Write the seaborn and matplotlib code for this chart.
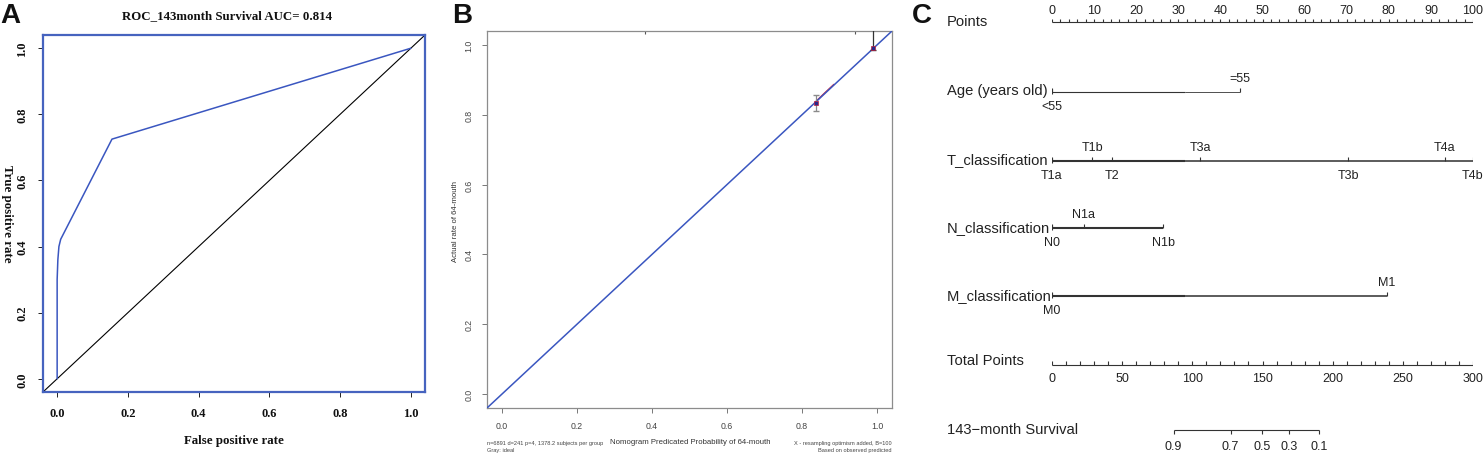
import numpy as np
import pandas as pd
import matplotlib
matplotlib.use("Agg")
import matplotlib.pyplot as plt
import seaborn as sns

# ---- data ----
# A: ROC curve
roc_fpr = [0.0, 0.0, 0.002, 0.005, 0.010, 0.155, 1.0]
roc_tpr = [0.0, 0.30, 0.36, 0.40, 0.422, 0.725, 1.0]
roc_title = "ROC_143month Survival AUC= 0.814"

# B: calibration
cal_pred = [0.838, 0.990]
cal_obs = [0.835, 0.990]
cal_lo = [0.812, 0.985]
cal_hi = [0.858, 1.080]
app_pred = [0.838, 0.860, 0.885]
app_obs = [0.839, 0.862, 0.887]
rug_pred = [0.382, 0.940]

# C: nomogram (points scale 0-100)
age_lab = ["<55", "=55"]
age_pts = [0.0, 44.6]
t_lab = ["T1a", "T1b", "T2", "T3a", "T3b", "T4a", "T4b"]
t_pts = [0.0, 9.6, 14.2, 35.2, 70.4, 93.3, 100.0]
n_lab = ["N0", "N1a", "N1b"]
n_pts = [0.0, 7.6, 26.4]
m_lab = ["M0", "M1"]
m_pts = [0.0, 79.5]
total_max = 300
surv_lab = ["0.9", "0.7", "0.5", "0.3", "0.1"]
surv_total = [86.7, 127.3, 149.9, 168.7, 190.5]

W, H = 1483, 456
sns.set_theme(style="white")
plt.rcParams["font.family"] = ["Liberation Sans", "DejaVu Sans"]

fig = plt.figure(figsize=(W / 100, H / 100), dpi=100)


def box(l, t, r, b):
    return [l / W, 1 - b / H, (r - l) / W, (b - t) / H]


def ftxt(x, y, s, **kw):
    fig.text(x / W, 1 - y / H, s, **kw)


serif = dict(family="Liberation Serif", weight="bold", color="#111111")

# ---------------- A ----------------
axA = fig.add_axes(box(43, 36, 425, 393))
roc_df = pd.DataFrame({"fpr": roc_fpr, "tpr": roc_tpr})
axA.axline((0, 0), (1, 1), color="black", lw=0.8)
sns.lineplot(data=roc_df, x="fpr", y="tpr", sort=False, estimator=None,
             color="#3a56c0", lw=1.1, ax=axA)
axA.set_xlim(-0.04, 1.04)
axA.set_ylim(-0.04, 1.04)
ticks = np.arange(0, 1.01, 0.2)
axA.set_xticks(ticks)
axA.set_yticks(ticks)
axA.set_xticklabels([f"{t:.1f}" for t in ticks], fontdict=serif, fontsize=9)
axA.set_yticklabels([f"{t:.1f}" for t in ticks], fontdict=serif, fontsize=9,
                    rotation=90, va="center")
axA.tick_params(direction="out", length=3.6, width=0.7, color="#222222", pad=7,
                bottom=True, left=True)
axA.set_xlabel("")
axA.set_ylabel("")
for s in axA.spines.values():
    s.set_color("#4663bf")
    s.set_linewidth(1.6)
ftxt(227, 16, roc_title, ha="center", va="center", fontsize=9.3, **serif)
ftxt(234, 441, "False positive rate", ha="center", va="center", fontsize=9.3, **serif)
ftxt(7, 214, "True positive rate", ha="center", va="center", rotation=270,
     fontsize=9.3, **serif)
ftxt(0, 16, "A", ha="left", va="center", fontsize=20, weight="bold", color="#111111")

# ---------------- B ----------------
axB = fig.add_axes(box(487, 32, 892, 409))
sns.lineplot(x=app_pred, y=app_obs, sort=False, estimator=None,
             color="#d0203a", lw=1.0, ax=axB, zorder=2)
axB.axline((0, 0), (1, 1), color="#3a56c0", lw=1.1, zorder=3)
err_cols = ["#8a8a8a", "#333333"]
for i in range(len(cal_pred)):
    axB.errorbar(cal_pred[i], cal_obs[i],
                 yerr=[[cal_obs[i] - cal_lo[i]], [cal_hi[i] - cal_obs[i]]],
                 fmt="none", ecolor=err_cols[i], elinewidth=0.9, capsize=2.5,
                 zorder=4)
cal_df = pd.DataFrame({"pred": cal_pred, "obs": cal_obs})
sns.scatterplot(data=cal_df, x="pred", y="obs", marker="s", s=10,
                color="#2a2a8a", edgecolor="#c02040", linewidth=0.5, ax=axB,
                zorder=5)
axB.vlines(rug_pred, 1.03, 1.04, color="#555555", lw=0.8)
axB.set_xlim(-0.04, 1.04)
axB.set_ylim(-0.04, 1.04)
axB.set_xticks(ticks)
axB.set_yticks(ticks)
axB.set_xticklabels([f"{t:.1f}" for t in ticks], fontsize=6.3, color="#444444")
axB.set_yticklabels([f"{t:.1f}" for t in ticks], fontsize=6.3, color="#444444",
                    rotation=90, va="center")
axB.tick_params(direction="out", length=3.6, width=0.7, color="#777777", pad=6,
                bottom=True, left=True)
axB.set_xlabel("")
axB.set_ylabel("")
for s in axB.spines.values():
    s.set_color("#8c8c8c")
    s.set_linewidth(0.9)
ftxt(690, 443, "Nomogram Predicated Probability of 64-mouth", ha="center",
     va="center", fontsize=5.6, color="#333333")
ftxt(455, 222, "Actual rate of 64-mouth", ha="center", va="center",
     rotation=90, fontsize=5.6, color="#333333")
ftxt(487, 444, "n=6891 d=241 p=4, 1378.2 subjects per group", ha="left",
     va="center", fontsize=4.1, color="#444444")
ftxt(487, 451, "Gray: ideal", ha="left", va="center", fontsize=4.1, color="#444444")
ftxt(892, 444, "X - resampling optimism added, B=100", ha="right", va="center",
     fontsize=4.1, color="#444444")
ftxt(892, 451, "Based on observed predicted", ha="right", va="center",
     fontsize=4.1, color="#444444")
ftxt(452, 16, "B", ha="left", va="center", fontsize=20, weight="bold", color="#111111")

# ---------------- C ----------------
axC = fig.add_axes(box(1052, 0, 1473, 456))
axC.set_xlim(0, 100)
axC.set_ylim(H, 0)
axC.axis("off")
lc = "#333333"
lab_x = (947 - 1052) / 421 * 100
row_font = dict(fontsize=10.6, color="#222222", ha="left", va="center")
tick_font = dict(fontsize=9, color="#222222", ha="center", va="center")


def row_label(y, s):
    axC.text(lab_x, y, s, clip_on=False, **row_font)


# Points axis
y0 = 23
axC.hlines(y0, 0, 100, color=lc, lw=0.8)
axC.vlines(np.arange(0, 101, 2), y0 - 3, y0, color=lc, lw=0.8)
for v in range(0, 101, 10):
    axC.text(v, 11, str(v), **tick_font)
row_label(22, "Points")


def cat_row(y, pts, labs, thick=1.2):
    axC.hlines(y, 0, min(max(pts), 31.7), color=lc, lw=thick)
    if max(pts) > 31.7:
        axC.hlines(y, 31.7, max(pts), color=lc, lw=thick * 0.75)
    axC.vlines(pts, y - 4, y, color=lc, lw=0.8)
    axC.vlines(0, y - 3, y + 2, color=lc, lw=0.8)
    order = np.argsort(pts)
    for k, i in enumerate(order):
        above = (k % 2 == 1)
        axC.text(pts[i], y - 14 if above else y + 14, labs[i], **tick_font)


row_label(91, "Age (years old)")
cat_row(93, age_pts, age_lab, thick=0.8)
row_label(160, "T_classification")
cat_row(162, t_pts, t_lab, thick=1.5)
row_label(228, "N_classification")
cat_row(229, n_pts, n_lab, thick=1.5)
row_label(296, "M_classification")
cat_row(297, m_pts, m_lab, thick=1.5)

# Total points axis
yt = 366
scale = 100 / total_max
axC.hlines(yt, 0, 100, color=lc, lw=0.8)
axC.vlines(np.arange(0, total_max + 1, 10) * scale, yt - 4, yt, color=lc, lw=0.8)
for v in range(0, total_max + 1, 50):
    axC.text(v * scale, 379, str(v), **tick_font)
row_label(361, "Total Points")

# Survival axis
ys = 431.5
sv = np.array(surv_total) * scale
axC.hlines(ys, sv.min(), sv.max(), color=lc, lw=0.8)
axC.vlines(sv, ys, ys + 4, color=lc, lw=0.8)
for v, s in zip(sv, surv_lab):
    axC.text(v, 447, s, **tick_font)
row_label(430, "143\u2212month Survival")
ftxt(912, 16, "C", ha="left", va="center", fontsize=20, weight="bold", color="#111111")

fig.savefig("out.png", dpi=100)
